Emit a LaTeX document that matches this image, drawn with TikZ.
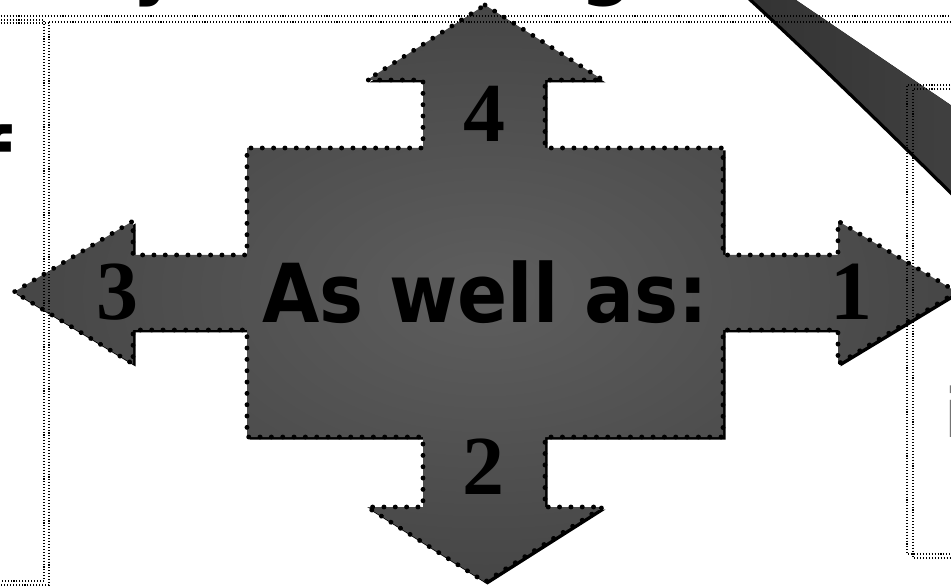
\documentclass[tikz,border=0pt]{standalone}
\usepackage{fontspec}
\setmainfont{DejaVu Sans}
\newfontfamily\bigfont[FakeStretch=0.91]{DejaVu Sans}
\newfontfamily\numfont{Liberation Serif}
\definecolor{crossin}{HTML}{5E5E5E}
\definecolor{crossout}{HTML}{2E2E2E}
\definecolor{bandl}{HTML}{333333}
\definecolor{bandr}{HTML}{404040}
\pgfdeclareradialshading{crossshade}{\pgfpoint{0bp}{0bp}}{color(0bp)=(crossin); color(50bp)=(crossout)}
\begin{document}
\begin{tikzpicture}[x=0.75pt,y=-0.75pt,
  frame/.style={draw=black, line width=0.8pt, dash pattern=on 0.8pt off 1.4pt},
  dotborder/.style={draw=black, line width=3.6pt, line cap=round, dash pattern=on 0.1pt off 8.4pt},
  digit/.style={font=\numfont\bfseries\fontsize{63}{63}\selectfont, inner sep=0pt},
  bigtext/.style={font=\bigfont\bfseries\fontsize{61}{61}\selectfont, inner sep=0pt}]
\useasboundingbox (0,0) rectangle (951,588);
\clip (0,0) rectangle (951,588);

% curved band at top right
\fill[left color=bandl, right color=bandr]
  (746,-4) .. controls (805,50) and (875,118) .. (958,200) -- (958,110) -- (790,-4) -- cycle;
\draw[line width=2.4pt] (746,-4) .. controls (805,50) and (875,118) .. (958,200);

% cross-shaped four-way arrow
\def\crosspath{(485,5) -- (603,80) -- (545,80) -- (545,148) -- (723,148) -- (723,255) -- (838,255) -- (838,221) -- (957,292) -- (838,364) -- (838,330) -- (723,330) -- (723,437) -- (545,437) -- (545,507) -- (603,507) -- (485,582) -- (367,507) -- (423,507) -- (423,437) -- (247,437) -- (247,330) -- (133,330) -- (133,364) -- (14,292) -- (133,221) -- (133,255) -- (247,255) -- (247,148) -- (423,148) -- (423,80) -- (367,80) -- cycle}
\begin{scope}[shift={(2.5,2.5)}]
  \fill[black] \crosspath;
\end{scope}
\shade[shading=crossshade] \crosspath;
\draw[dotborder] \crosspath;

% texts
\node[bigtext] (main) at (485,292) {As well as:};
\node[digit] (n1) at (851,292) {1};
\node[digit] (n2) at (483,467) {2};
\node[digit] (n3) at (117,292) {3};
\node[digit] (n4) at (484,114) {4};

% partly visible texts at the edges
\node[bigtext, anchor=base] (ty) at (157,-10) {y};
\node[bigtext, anchor=base] (tg) at (607,-10) {g};
\node[bigtext, anchor=north east] (lf) at (12,124) {f};
\node[font=\bigfont\fontsize{51}{51}\selectfont, inner sep=0pt, anchor=north west, text=black!55] (ri) at (944.5,386) {i};

% dotted frames
\draw[frame] (-5,16) -- (956,16);
\draw[frame] (49,22) -- (956,22);
\draw[frame] (-5,20) -- (44,20) -- (44,581) -- (-5,581);
\draw[frame] (-5,23) -- (49,23) -- (49,585) -- (-5,585);
\draw[frame] (956,85) -- (907,85) -- (907,554) -- (956,554);
\draw[frame] (956,89) -- (913,89) -- (913,558) -- (956,558);
\end{tikzpicture}
\end{document}
